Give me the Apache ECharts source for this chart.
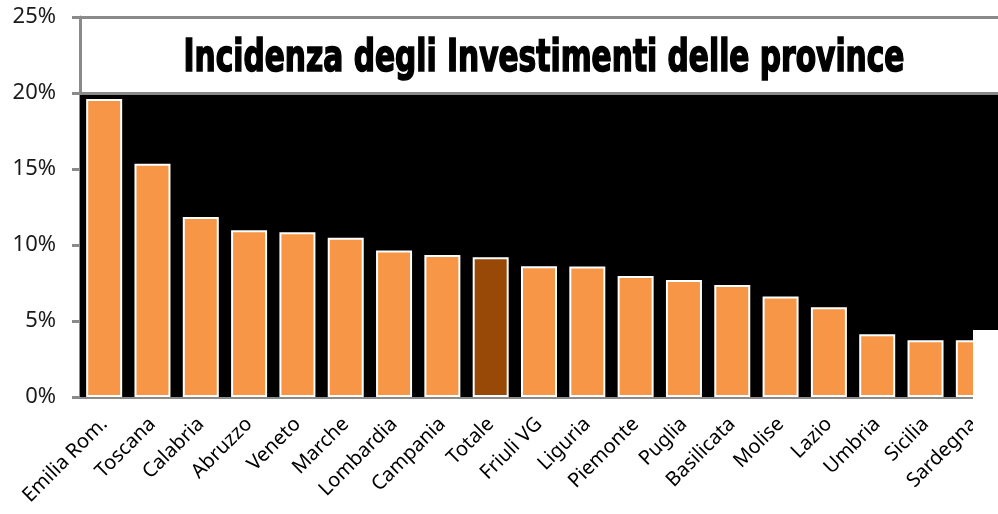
<!DOCTYPE html>
<html>
<head>
<meta charset="utf-8">
<script src="https://cdn.jsdelivr.net/npm/echarts@6/dist/echarts.min.js"></script>
<style>
  html, body { margin: 0; padding: 0; background: #fff; }
  #chart { width: 998px; height: 514px; }
</style>
</head>
<body>
<div id="chart"></div>
<script>
// dati
const province = ['Emilia Rom.', 'Toscana', 'Calabria', 'Abruzzo', 'Veneto', 'Marche', 'Lombardia',
  'Campania', 'Totale', 'Friuli VG', 'Liguria', 'Piemonte', 'Puglia', 'Basilicata', 'Molise',
  'Lazio', 'Umbria', 'Sicilia', 'Sardegna'];
const incidenza = [0.196, 0.1535, 0.1185, 0.1097, 0.1084, 0.1047, 0.0963,
  0.0935, 0.092, 0.086, 0.0858, 0.0796, 0.077, 0.0737, 0.0662,
  0.059, 0.0413, 0.0374, 0.0374];
const evidenza = 'Totale'; // barra colorata diversamente
const titolo = 'Incidenza degli Investimenti delle province';

const arancio = '#f79646';
const marrone = '#984807';
const grigio = '#8a8a8a';

const chart = echarts.init(document.getElementById('chart'));

const option = {
  animation: false,
  backgroundColor: '#fff',
  grid: { left: 80, right: -9, top: 17, bottom: 117 },
  xAxis: {
    type: 'category',
    data: province,
    axisLine: { lineStyle: { color: grigio, width: 3 } },
    axisTick: { length: 6, lineStyle: { color: grigio, width: 3 } },
    axisLabel: {
      rotate: 45,
      interval: 0,
      margin: 24,
      fontFamily: 'Noto Sans',
      fontSize: 20,
      color: '#000'
    }
  },
  yAxis: {
    type: 'value',
    min: 0,
    max: 0.25,
    interval: 0.05,
    axisLine: { show: true, lineStyle: { color: grigio, width: 3 } },
    axisTick: { show: true, length: 8, lineStyle: { color: grigio, width: 3 } },
    axisLabel: {
      margin: 24,
      fontFamily: 'Noto Sans',
      fontSize: 22,
      color: '#1a1a1a',
      formatter: v => Math.round(v * 100) + '%'
    },
    splitLine: { show: false }
  },
  series: [
    { // sfondo nero + linee 20% / 25%
      type: 'line',
      data: [],
      z: 1,
      silent: true,
      markArea: {
        silent: true,
        itemStyle: { color: '#000' },
        data: [[{ yAxis: 0 }, { yAxis: 0.2 }]]
      },
      markLine: {
        silent: true,
        symbol: 'none',
        label: { show: false },
        lineStyle: { color: grigio, width: 3, type: 'solid' },
        data: [{ yAxis: 0.2 }, { yAxis: 0.25 }]
      }
    },
    {
      type: 'bar',
      z: 3,
      barWidth: 36,
      data: incidenza.map((v, i) => ({
        value: v,
        itemStyle: { color: province[i] === evidenza ? marrone : arancio }
      })),
      itemStyle: { borderColor: '#fff', borderWidth: 2 }
    }
  ],
  graphic: [
    { // titolo stretto e alto, come nell'originale
      type: 'text',
      x: 544,
      y: 59,
      scaleY: 1.35,
      z: 100,
      style: {
        text: titolo,
        fontFamily: 'DejaVu Sans Condensed',
        fontWeight: 'bold',
        fontSize: 33,
        fill: '#000',
        stroke: '#000',
        lineWidth: 1.2,
        align: 'center',
        verticalAlign: 'middle'
      }
    },
    { // fascia bianca a destra presente nell'originale
      type: 'rect',
      right: 0,
      top: 330,
      z: 100,
      shape: { width: 25, height: 184 },
      style: { fill: '#fff' }
    }
  ]
};

chart.setOption(option);
</script>
</body>
</html>
